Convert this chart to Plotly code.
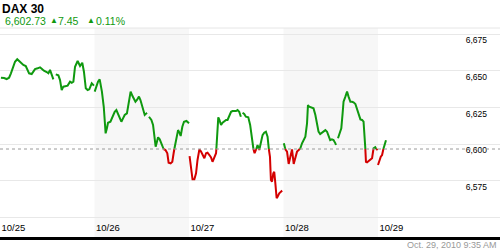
import plotly.graph_objects as go

# ---------------- data ----------------
title = "DAX 30"
last_price = "6,602.73"
change_abs = "7.45"
change_pct = "0.11%"
timestamp = "Oct. 29, 2010 9:35 AM"
prev_close = 6596.8

day_labels = ["10/25", "10/26", "10/27", "10/28", "10/29"]
session_minutes = 510  # 09:00 - 17:30

# minutes after open (None = data gap) and index values, per day
d25_min = [5, 22, 36, 49, 59, 72, 81, 93, 103, 113, 126, 139, 147, 157, 171, 180, 189, 203, 216, 225,
           237, 252, 261, 270, 279, 288, None, 301, 315, 324, 333, 342, 355, 365, 378, 387, 396, 405,
           419, 432, 444, 453, 463, 473, 482, 495, 507]
d25_val = [6645.4, 6645.2, 6644.5, 6645.4, 6648.4, 6652.9, 6656.3, 6658.0, 6656.8, 6655.2, 6654.1,
           6653.4, 6650.7, 6648.4, 6647.9, 6649.5, 6651.3, 6651.8, 6652.5, 6651.5, 6650.2, 6649.3,
           6648.4, 6650.7, 6647.2, 6644.3, None, 6647.7, 6647.0, 6643.8, 6637.0, 6639.3, 6640.0,
           6640.0, 6642.7, 6642.0, 6642.7, 6652.9, 6656.8, 6653.4, 6655.6, 6649.5, 6638.2, 6637.0,
           6637.5, 6641.6, 6640.0]

d26_min = [1, 10, 19, 28, 33, 40, 50, 55, 60, 67, 73, 86, 97, 109, 118, 127, 136, 145, 154, 163, 175,
           186, 195, 205, 213, 221, 229, 240, 248, 256, 265, 271, 280, 283, None, 294, 307, 316, 325,
           330, 337, 343, 352, 361, 370, 383, 393, 400, 411, 420, 427, 433, 442, 451, 460, 465, 474,
           483, 496, 505, 510]
d26_val = [6635.9, 6639.3, 6642.7, 6644.3, 6641.6, 6635.9, 6625.6, 6616.6, 6607.5, 6610.9, 6614.7,
           6615.4, 6619.3, 6622.2, 6623.4, 6621.1, 6618.8, 6615.4, 6617.7, 6620.0, 6621.1, 6628.0,
           6635.9, 6632.9, 6631.4, 6629.0, 6630.2, 6632.5, 6630.2, 6626.8, 6623.4, 6620.0, 6621.1,
           6621.5, None, 6618.8, 6616.6, 6613.2, 6604.1, 6598.4, 6601.8, 6604.8, 6603.4, 6600.7,
           6597.0, 6596.1, 6593.9, 6587.5, 6587.0, 6588.1, 6593.9, 6598.4, 6603.4, 6609.7, 6607.5,
           6605.7, 6612.0, 6615.4, 6615.9, 6615.0, 6614.3]

d27_min = [3, 11, 19, 29, 38, 46, 56, 65, 73, 83, 92, 100, 110, 119, 127, 137, 146, 151, 158, 164, 173,
           181, 191, 200, 208, 218, 227, 235, 244, 254, 262, 271, 280, None, 289, 298, 307, 320, 330,
           337, 343, 348, 354, 361, 370, 379, 388, 397, 406, 415, 424, 429, 437, 442, 448, 455, 460,
           466, 473, 478, 487, 496, 503]
d27_val = [6592.0, 6582.5, 6576.1, 6576.1, 6580.2, 6589.3, 6596.5, 6595.0, 6592.7, 6590.5, 6593.9,
           6594.3, 6592.7, 6591.1, 6588.1, 6591.5, 6593.9, 6602.9, 6618.4, 6616.6, 6613.2, 6614.7,
           6615.9, 6616.6, 6616.6, 6620.0, 6622.2, 6622.7, 6622.9, 6622.7, 6623.4, 6622.2, 6618.8,
           None, 6621.5, 6620.7, 6618.8, 6618.4, 6613.2, 6607.5, 6601.8, 6596.5, 6593.9, 6596.1,
           6599.5, 6596.1, 6600.7, 6606.3, 6607.9, 6608.6, 6605.2, 6598.4, 6591.5, 6575.7, 6574.5,
           6580.2, 6581.3, 6573.4, 6563.2, 6564.3, 6566.6, 6567.7, 6568.4]

d28_min = [2, 10, 19, 28, 37, 46, 55, 64, 73, 82, 91, 100, 108, 118, 127, 132, 139, 150, 162, 172, 181,
           189, 198, 208, 216, 226, 235, 243, 252, 261, 270, 280, 283, None, 294, 303, 312, 319, 324,
           334, 343, 351, 361, 370, 378, 388, 397, 405, 415, 424, 432, 441, 445, 451, 459, 468, 478,
           486, 495, 504, 508]
d28_val = [6600.7, 6596.5, 6595.0, 6586.6, 6591.5, 6596.5, 6586.6, 6591.5, 6595.0, 6596.1, 6597.3,
           6600.7, 6602.9, 6605.2, 6614.3, 6626.8, 6625.6, 6625.0, 6624.5, 6620.0, 6614.3, 6608.6,
           6607.0, 6607.9, 6608.6, 6609.7, 6608.6, 6605.2, 6602.9, 6603.4, 6602.9, 6600.7, 6599.5,
           None, 6604.1, 6607.5, 6610.9, 6621.1, 6629.0, 6632.5, 6635.9, 6632.5, 6629.0, 6629.0,
           6628.6, 6627.5, 6623.4, 6620.0, 6617.0, 6616.6, 6615.4, 6598.4, 6588.1, 6587.7, 6588.6,
           6589.3, 6590.5, 6597.3, 6598.0, 6596.1, 6596.1]

d29_min = [0, 7, 15, 22, 30, 38, 43]
d29_val = [6585.9, 6588.8, 6591.5, 6592.7, 6597.3, 6602.2, 6602.73]

y_ticks = [6550, 6575, 6600, 6625, 6650, 6675]
y_ticktext = ["", "6,575", "6,600", "6,625", "6,650", "6,675"]

GREEN = "#0f990f"
RED = "#d40000"
FONT = "Arial, Liberation Sans, sans-serif"

# ---------------- build series ----------------
days_min = [d25_min, d26_min, d27_min, d28_min, d29_min]
days_val = [d25_val, d26_val, d27_val, d28_val, d29_val]

segments = []
for di, (mins, vals) in enumerate(zip(days_min, days_val)):
    cur = []
    for m, v in zip(mins, vals):
        if m is None:
            if cur:
                segments.append(cur)
            cur = []
            continue
        cur.append((di + m / session_minutes, v))
    if cur:
        segments.append(cur)

gx, gy, rx, ry = [], [], [], []
for seg in segments:
    prev = None
    for (x, y) in seg:
        if prev is not None:
            x0, y0 = prev
            if (y0 - prev_close) * (y - prev_close) < 0:
                xc = x0 + (prev_close - y0) / (y - y0) * (x - x0)
                gx.append(xc); gy.append(prev_close)
                rx.append(xc); ry.append(prev_close)
        if y >= prev_close:
            gx.append(x); gy.append(y)
            rx.append(None); ry.append(None)
        else:
            rx.append(x); ry.append(y)
            gx.append(None); gy.append(None)
        prev = (x, y)
    gx.append(None); gy.append(None)
    rx.append(None); ry.append(None)

fig = go.Figure()
fig.add_trace(go.Scatter(x=gx, y=gy, mode="lines", line=dict(color=GREEN, width=2),
                         connectgaps=False, hoverinfo="skip", showlegend=False))
fig.add_trace(go.Scatter(x=rx, y=ry, mode="lines", line=dict(color=RED, width=2),
                         connectgaps=False, hoverinfo="skip", showlegend=False))

x_end = 500 / 94.5
shapes = []
for d in (1, 3):
    shapes.append(dict(type="rect", xref="x", yref="paper", x0=d, x1=d + 1, y0=0, y1=1,
                       fillcolor="#f7f7f7", line=dict(width=0), layer="below"))
shapes.append(dict(type="line", xref="paper", yref="y", x0=0, x1=1, y0=prev_close, y1=prev_close,
                   line=dict(color="#9a9a9a", width=1, dash="3px,3px")))
shapes.append(dict(type="line", xref="paper", yref="paper", x0=0, x1=1, y0=1, y1=1,
                   line=dict(color="#e6e6e6", width=1)))

H_TOP, H_BOT = 28, 13
plot_h = 250 - H_TOP - H_BOT


def py(pix):
    return (250 - H_BOT - pix) / plot_h


annotations = [
    dict(text="<b>" + title + "</b>", x=1 / 500, y=py(9), font=dict(size=12, color="#000")),
    dict(text=last_price, x=4 / 500, y=py(21), font=dict(size=10.5, color=GREEN)),
    dict(text="▲", x=49 / 500, y=py(20), font=dict(size=8, color=GREEN)),
    dict(text=change_abs, x=57 / 500, y=py(21), font=dict(size=10.5, color=GREEN)),
    dict(text="▲", x=86 / 500, y=py(20), font=dict(size=8, color=GREEN)),
    dict(text=change_pct, x=95 / 500, y=py(21), font=dict(size=10.5, color=GREEN)),
    dict(text=timestamp, x=498 / 500, y=py(245), xanchor="right",
         font=dict(size=9, color="#999999")),
]
for a in annotations:
    a.setdefault("xanchor", "left")
    a.update(xref="paper", yref="paper", yanchor="middle", showarrow=False, borderpad=0)

fig.update_layout(
    width=500, height=250,
    margin=dict(l=0, r=0, t=H_TOP, b=H_BOT, pad=0),
    paper_bgcolor="white", plot_bgcolor="white",
    font=dict(family=FONT, size=11, color="#000"),
    shapes=shapes, annotations=annotations,
    xaxis=dict(range=[0, x_end], tickvals=list(range(5)), ticktext=day_labels,
               ticklabelposition="inside right", showgrid=False, zeroline=False,
               showline=True, linecolor="#000", linewidth=3, ticks="",
               tickfont=dict(size=9.5, color="#000"), fixedrange=True),
    yaxis=dict(range=[6536.8, 6679.3], tickvals=y_ticks, ticktext=y_ticktext, side="right",
               ticklabelposition="inside", ticklabelshift=6, ticklabelstandoff=10,
               showgrid=True, gridcolor="#e8e8e8", gridwidth=1, zeroline=False, showline=False,
               ticks="", tickfont=dict(size=8.5, color="#000"), fixedrange=True),
)

fig.write_html("out.html")
